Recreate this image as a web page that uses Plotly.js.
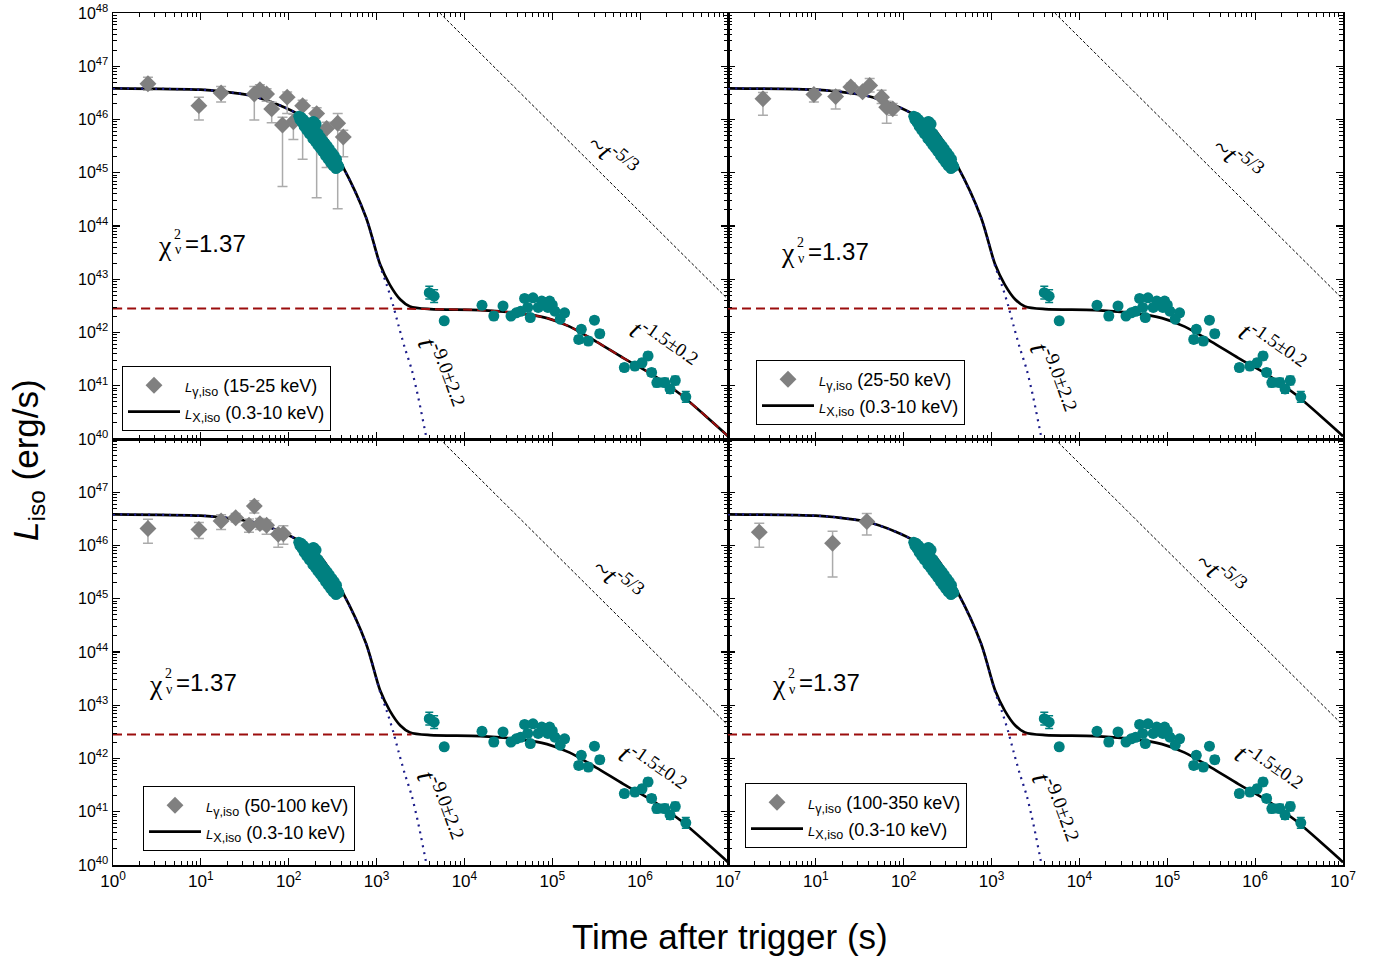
<!DOCTYPE html>
<html><head><meta charset="utf-8">
<script src="https://cdn.plot.ly/plotly-3.0.1.min.js"></script>
<style>body{margin:0;background:#fff}#chart{width:1390px;height:962px}</style>
</head><body><div id="chart"></div>
<script>
// ---------------- DATA ----------------
// X-ray (0.3-10 keV), early steep segment (s, erg/s)
const xEarlyT = [130,134,139,142,147,150,156,160,165,172,176,182,186,190,196,204,210,216,222,230,236,244,250,258,266,274,282,290,300,310,320,330,340,350,362,372,
                 150,160,172,188,200,214,228,244,262,280,300,320,345,195,205];
const xEarlyL = [1.15e46,1.0e46,1.1e46,8.8e45,1.0e46,8.6e45,9.0e45,7.6e45,8.2e45,7.2e45,6.6e45,7.4e45,6.0e45,9.2e45,5.4e45,5.8e45,4.6e45,5.4e45,4.2e45,4.6e45,3.6e45,4.0e45,3.2e45,3.6e45,2.8e45,3.2e45,2.5e45,2.8e45,2.2e45,2.4e45,1.9e45,2.1e45,1.6e45,1.8e45,1.4e45,1.3e45,
                 7.4e45,6.3e45,5.4e45,4.4e45,3.9e45,3.3e45,2.9e45,2.5e45,2.1e45,1.8e45,1.55e45,1.35e45,1.2e45,9.0e45,8.2e45];
// X-ray late-time data (s, erg/s) and error (dex)
const xLateT = [3980,4520,5890,15850,21600,27500,33900,38900,43600,48400,52500,56200,60300,69200,75900,81300,89100,93300,100000,107000,123000,138000,200000,214000,257000,302000,347000,661000,871000,1050000,1230000,1350000,1550000,1910000,2190000,2510000,3310000];
const xLateL = [5.6e42,4.8e42,1.66e42,3.24e42,2.04e42,3.16e42,2.04e42,2.34e42,2.5e42,4.37e42,2.95e42,1.91e42,4.47e42,2.95e42,3.89e42,3.3e42,2.95e42,3.89e42,3.3e42,2.51e42,1.78e42,2.34e42,7.4e41,1.15e42,6.9e41,1.70e42,9.5e41,2.19e41,2.34e41,2.69e41,3.63e41,1.78e41,1.15e41,1.15e41,8.7e40,1.26e41,6.2e40];
const xLateErrDex = [0.12,0.12,0.06,0.06,0.07,0.06,0.06,0.06,0.06,0.06,0.06,0.06,0.06,0.06,0.06,0.06,0.06,0.06,0.06,0.06,0.06,0.06,0.07,0.06,0.07,0.06,0.07,0.07,0.07,0.07,0.07,0.07,0.08,0.08,0.08,0.08,0.1];

// Gamma-ray data per band: time (s), L, upper bound, lower bound
const g1T  = [2.5,9.5,17,40.6,47,56,64,96,85,113,144,208,270,361,418];
const g1L  = [4.68e46,1.82e46,3.16e46,3.02e46,3.63e46,3.02e46,1.58e46,2.63e46,7.9e45,9.1e45,1.82e46,1.29e46,6.8e45,8.5e45,4.7e45];
const g1Hi = [6.2e46,2.63e46,4.17e46,4.17e46,4.5e46,3.8e46,2.1e46,3.3e46,1.1e46,1.26e46,2.3e46,1.66e46,8.9e45,1.29e46,6.3e45];
const g1Lo = [3.55e46,9.8e45,2.14e46,9.8e45,2.8e46,2.2e46,8.7e45,1.29e46,5.5e44,4.2e45,1.8e45,3.4e44,1.26e45,2.1e44,2.0e45];

const g2T  = [2.5,9.5,16.8,25,34,41,56,64,75];
const g2L  = [2.45e46,2.95e46,2.69e46,4.07e46,3.31e46,4.37e46,2.63e46,1.7e46,1.58e46];
const g2Hi = [3.2e46,3.6e46,3.63e46,4.8e46,4.0e46,5.9e46,3.55e46,2.2e46,2.0e46];
const g2Lo = [1.2e46,2.14e46,1.58e46,3.5e46,2.8e46,3.3e46,2.0e46,8.5e45,1.2e46];

const g3T  = [2.5,9.5,17,24.9,35.3,40.6,47,56,76,87];
const g3L  = [2.09e46,2.0e46,2.88e46,3.31e46,2.4e46,5.5e46,2.57e46,2.4e46,1.62e46,1.66e46];
const g3Hi = [3.1e46,2.7e46,3.8e46,4.0e46,3.16e46,6.9e46,3.2e46,3.0e46,2.0e46,2.34e46];
const g3Lo = [1.1e46,1.35e46,2.0e46,2.75e46,1.78e46,4.07e46,2.0e46,1.62e46,9.3e45,1.05e46];

const g4T  = [2.27,15.5,38];
const g4L  = [1.78e46,1.1e46,2.82e46];
const g4Hi = [2.63e46,1.86e46,4.0e46];
const g4Lo = [9.3e45,2.57e45,1.58e46];

// Total model curve
const modelT = [1,10,17,37,81,135,229,417,759,1096,1413,1862,2399,4074,15100,42700,87100,158000,316000,646000,1410000,2820000,9770000,1e7];
const modelL = [3.85e46,3.63e46,3.39e46,2.82e46,1.82e46,1.20e46,6.17e45,1.26e45,1.45e44,1.91e43,7.94e42,4.17e42,3.09e42,2.75e42,2.63e42,2.29e42,1.86e42,1.29e42,6.76e41,3.31e41,1.58e41,7.08e40,1.17e40,1.12e40];
// Prompt component (blue dotted)
const promptT = [1,10,17,37,81,135,229,417,759,1096,1303,1549,1778,2089,2512,2985,3715,4169];
const promptL = [3.85e46,3.63e46,3.39e46,2.82e46,1.82e46,1.20e46,6.17e45,1.26e45,1.45e44,1.78e43,7.94e42,3.16e42,1.35e42,5.25e41,2.0e41,6.0e40,1.0e40,4.0e39];
// X-ray plateau component (red dashed)
const plateauT = [1,1000,4074,15100,42700,87100,158000,316000,646000,1410000,2820000,9770000,1e7];
const plateauL = [2.82e42,2.82e42,2.75e42,2.63e42,2.29e42,1.86e42,1.29e42,6.76e41,3.31e41,1.58e41,7.08e40,1.17e40,1.12e40];
const plateauShortT = [1,2500];
const plateauShortL = [2.82e42,2.82e42];
// ~t^-5/3 guide line
const guideT = [5250,1e7];
const guideL = [1e48,4.2e42];

const bands = ['15-25 keV','25-50 keV','50-100 keV','100-350 keV'];
const xTickExp = [0,1,2,3,4,5,6,7];
const yTickExp = [40,41,42,43,44,45,46,47,48];
const chiText = '=1.37';

// ---------------- LAYOUT HELPERS ----------------
const W=1390,H=962,ML=113,MR=47,MT=13,MB=97;
const PW=W-ML-MR, PH=H-MT-MB;
function P(x,y){return {x:(x-ML)/PW, y:(H-MB-y)/PH};}

const minorX=[], minorY=[];
for(let d=0;d<7;d++) for(let k=2;k<10;k++) minorX.push(k*Math.pow(10,d));
for(let d=40;d<48;d++) for(let k=2;k<10;k++) minorY.push(k*Math.pow(10,d));

const FONT='Liberation Sans, Arial, sans-serif';
const NARROW='Liberation Sans Narrow, Arial Narrow, Liberation Sans, Arial, sans-serif';
const SERIF='Liberation Serif, Times New Roman, serif';

function axisBase(){
  return {type:'log', showline:true, linecolor:'#000', linewidth:1.5, mirror:'ticks',
    ticks:'inside', ticklen:7, tickwidth:1.2, tickcolor:'#000', showgrid:false, zeroline:false,
    tickmode:'array',
    minor:{ticks:'inside', ticklen:4, tickwidth:1, tickcolor:'#000', tickmode:'array', showgrid:false}};
}
function xAxis(domain, anchor, labels, skipFirst){
  const a=axisBase();
  a.domain=domain; a.anchor=anchor; a.range=[0,7];
  const ex = skipFirst? xTickExp.slice(1): xTickExp;
  a.tickvals=ex.map(e=>Math.pow(10,e));
  a.ticktext=ex.map(e=>'10<sup>'+e+'</sup>');
  a.showticklabels=labels;
  a.tickfont={family:NARROW,size:17,color:'#000'};
  a.minor.tickvals=minorX;
  return a;
}
function yAxis(domain, anchor, labels, skipTop){
  const a=axisBase();
  a.domain=domain; a.anchor=anchor; a.range=[40,48];
  const ex = skipTop? yTickExp.slice(0,-1): yTickExp;
  a.tickvals=ex.map(e=>Math.pow(10,e));
  a.ticktext=ex.map(e=>'10<sup>'+e+'</sup>');
  a.showticklabels=labels;
  a.tickfont={family:FONT,size:16,color:'#000'};
  a.minor.tickvals=minorY;
  return a;
}

const panels=[
  {xa:'x', ya:'y', g:[g1T,g1L,g1Hi,g1Lo], leg:'legend',  full:true},
  {xa:'x2',ya:'y2',g:[g2T,g2L,g2Hi,g2Lo], leg:'legend2', full:false},
  {xa:'x3',ya:'y3',g:[g3T,g3L,g3Hi,g3Lo], leg:'legend3', full:false},
  {xa:'x4',ya:'y4',g:[g4T,g4L,g4Hi,g4Lo], leg:'legend4', full:false}
];

const traces=[];
panels.forEach((p,i)=>{
  const base={xaxis:p.xa, yaxis:p.ya, hoverinfo:'skip'};
  traces.push(Object.assign({x:guideT,y:guideL,mode:'lines',showlegend:false,
    line:{color:'#000',width:1,dash:'3px,2px'}},base));
  traces.push(Object.assign({x:modelT,y:modelL,mode:'lines',legend:p.leg,legendrank:2,legendgroup:'m'+i,
    name:'<span style="font-size:13px"><i>L</i></span><sub>X,iso</sub> (0.3-10 keV)',
    line:{color:'#000',width:2.7,shape:'spline',smoothing:0.8}},base));
  traces.push(Object.assign({x:promptT,y:promptL,mode:'lines',showlegend:false,
    line:{color:'#1c1c8a',width:2.2,dash:'2px,5px',shape:'spline',smoothing:0.8}},base));
  traces.push(Object.assign({x:p.full?plateauT:plateauShortT,y:p.full?plateauL:plateauShortL,mode:'lines',showlegend:false,
    line:{color:'#9b0d0d',width:2,dash:'9px,5px',shape:'spline',smoothing:0.8}},base));
  const [gT,gL,gHi,gLo]=p.g;
  traces.push(Object.assign({x:gT,y:gL,mode:'markers',legend:p.leg,legendrank:1,legendgroup:'g'+i,
    name:'<span style="font-size:13px"><i>L</i></span><sub>γ,iso</sub> ('+bands[i]+')',
    marker:{symbol:'diamond',size:13,color:'#808080'},
    error_y:{type:'data',symmetric:false,array:gL.map((v,k)=>gHi[k]-v),arrayminus:gL.map((v,k)=>v-gLo[k]),
      color:'#ababab',thickness:1.5,width:5}},base));
  traces.push(Object.assign({x:xEarlyT,y:xEarlyL,mode:'markers',showlegend:false,
    marker:{symbol:'circle',size:11,color:'#008080'}},base));
  traces.push(Object.assign({x:xLateT,y:xLateL,mode:'markers',showlegend:false,
    marker:{symbol:'circle',size:11,color:'#008080'},
    error_y:{type:'data',symmetric:false,
      array:xLateL.map((v,k)=>v*(Math.pow(10,xLateErrDex[k])-1)),
      arrayminus:xLateL.map((v,k)=>v*(1-Math.pow(10,-xLateErrDex[k]))),
      color:'#008080',thickness:1.5,width:4}},base));
});

// annotations
const ann=[];
function A(px,py,text,o){
  const q=P(px,py);
  ann.push(Object.assign({xref:'paper',yref:'paper',x:q.x,y:q.y,text:text,showarrow:false,
    xanchor:'center',yanchor:'middle',
    font:{family:FONT,size:20,color:'#000'}},o||{}));
}
const offs=[[0,0],[623,8],[-9,439],[614,439]];
const lblPos=[
  {s:[613,155],b:[663,345],n:[441,373]},
  {s:[1238,158],b:[1272,347],n:[1053,378]},
  {s:[618,579],b:[652,769],n:[440,806]},
  {s:[1221,573],b:[1268,769],n:[1055,808]}
];
offs.forEach((o,i)=>{
  const dx=o[0],dy=o[1];
  A(165+dx,245+dy,'χ',{font:{family:SERIF,size:28,color:'#000'}});
  A(177+dx,234+dy,'2',{font:{family:SERIF,size:14,color:'#000'}});
  A(177.5+dx,250+dy,'ν',{font:{family:SERIF,size:14,color:'#000'}});
  A(183+dx,243+dy,chiText,{xanchor:'left',font:{family:FONT,size:24,color:'#000'}});
  const L=lblPos[i];
  A(L.s[0],L.s[1],'~<i>t</i><sup>-5/3</sup>',{textangle:40,font:{family:SERIF,size:27,color:'#000'}});
  A(L.b[0],L.b[1],'<i>t</i><sup>-1.5±0.2</sup>',{textangle:35,font:{family:SERIF,size:27,color:'#000'}});
  A(L.n[0],L.n[1],'<i>t</i><sup>-9.0±2.2</sup>',{textangle:70,font:{family:SERIF,size:28,color:'#000'}});
});
A(28,460,'<i>L</i><sub>iso</sub> (erg/s)',{textangle:-90,font:{family:FONT,size:35,color:'#000'}});
A(730,937,'Time after trigger (s)',{font:{family:FONT,size:35,color:'#000'}});

function legendAt(px,py){
  const q=P(px,py);
  return {x:q.x,y:q.y,xref:'paper',yref:'paper',xanchor:'left',yanchor:'top',
    bgcolor:'#fff',bordercolor:'#000',borderwidth:1,tracegroupgap:0,itemwidth:52,
    font:{family:FONT,size:18,color:'#000'}};
}

const layout={
  width:W,height:H,margin:{l:ML,r:MR,t:MT,b:MB},
  paper_bgcolor:'#fff',plot_bgcolor:'#fff',showlegend:true,
  xaxis: xAxis([0,0.5],'y',false,false),
  yaxis: yAxis([0.5,1],'x',true,false),
  xaxis2:xAxis([0.5,1],'y2',false,false),
  yaxis2:yAxis([0.5,1],'x2',false,false),
  xaxis3:xAxis([0,0.5],'y3',true,false),
  yaxis3:yAxis([0,0.5],'x3',true,true),
  xaxis4:xAxis([0.5,1],'y4',true,true),
  yaxis4:yAxis([0,0.5],'x4',false,false),
  legend: legendAt(122,366),
  legend2:legendAt(756,360),
  legend3:legendAt(143,786),
  legend4:legendAt(745,783),
  annotations:ann
};
Plotly.newPlot('chart',traces,layout,{staticPlot:true});
</script></body></html>
